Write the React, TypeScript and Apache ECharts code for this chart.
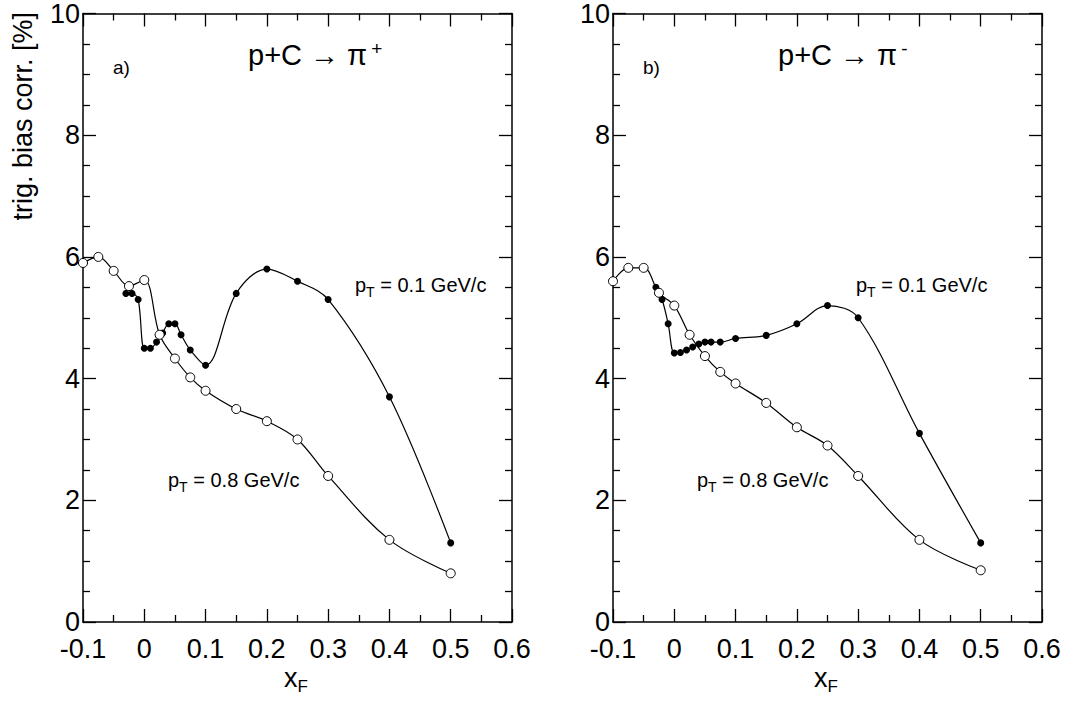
import { useEffect, useRef } from 'react'
import * as echarts from 'echarts'

// panel a) p+C -> pi+
const aFilledX = [-0.03, -0.02, -0.01, 0, 0.01, 0.02, 0.03, 0.04, 0.05, 0.06, 0.075, 0.1, 0.15, 0.2, 0.25, 0.3, 0.4, 0.5]
const aFilledY = [5.4, 5.4, 5.3, 4.5, 4.5, 4.6, 4.75, 4.9, 4.9, 4.72, 4.47, 4.22, 5.4, 5.8, 5.6, 5.3, 3.7, 1.3]
const aOpenX = [-0.1, -0.075, -0.05, -0.025, 0, 0.025, 0.05, 0.075, 0.1, 0.15, 0.2, 0.25, 0.3, 0.4, 0.5]
const aOpenY = [5.9, 6.0, 5.77, 5.52, 5.62, 4.72, 4.33, 4.02, 3.8, 3.5, 3.3, 3.0, 2.4, 1.35, 0.8]

// panel b) p+C -> pi-
const bFilledX = [-0.03, -0.02, -0.01, 0, 0.01, 0.02, 0.03, 0.04, 0.05, 0.06, 0.075, 0.1, 0.15, 0.2, 0.25, 0.3, 0.4, 0.5]
const bFilledY = [5.5, 5.3, 4.9, 4.42, 4.43, 4.47, 4.52, 4.57, 4.6, 4.6, 4.6, 4.66, 4.71, 4.9, 5.2, 5.0, 3.1, 1.3]
const bOpenX = [-0.1, -0.075, -0.05, -0.025, 0, 0.025, 0.05, 0.075, 0.1, 0.15, 0.2, 0.25, 0.3, 0.4, 0.5]
const bOpenY = [5.6, 5.82, 5.82, 5.41, 5.2, 4.72, 4.37, 4.11, 3.92, 3.6, 3.2, 2.9, 2.4, 1.35, 0.85]

const xLabels = ['-0.1', '0', '0.1', '0.2', '0.3', '0.4', '0.5', '0.6']
const yLabels = ['0', '2', '4', '6', '8', '10']

const font = 'Liberation Sans, Arial, sans-serif'
const zip = (xs: number[], ys: number[]) => xs.map((x, i) => [x, ys[i]])

export default function App() {
  const ref = useRef<HTMLDivElement | null>(null)

  useEffect(() => {
    if (!ref.current) return
    const chart = echarts.init(ref.current, null, { renderer: 'svg' })

    const grids = [
      { left: 83, top: 12, width: 429, height: 610 },
      { left: 613, top: 12, width: 429, height: 610 },
    ]
    const tick = { show: true, inside: true, length: 13, lineStyle: { color: '#000', width: 1.3 } }
    const minor = (n: number) => ({ show: true, splitNumber: n, length: 7, lineStyle: { color: '#000', width: 1.3 } })
    const line = { show: true, onZero: false, lineStyle: { color: '#000', width: 1.5 } }
    const xAxes: any[] = []
    const yAxes: any[] = []
    grids.forEach((_, g) => {
      for (const pos of ['bottom', 'top']) {
        xAxes.push({
          type: 'value', gridIndex: g, position: pos, min: -0.1, max: 0.6, interval: 0.1,
          axisLine: line, axisTick: tick, minorTick: minor(2), splitLine: { show: false },
          axisLabel: {
            show: pos === 'bottom', color: '#000', fontSize: 27, fontFamily: font, margin: 13,
            formatter: (v: number) => xLabels[Math.round((v + 0.1) * 10)] ?? '',
          },
        })
      }
      for (const pos of ['left', 'right']) {
        yAxes.push({
          type: 'value', gridIndex: g, position: pos, min: 0, max: 10, interval: 2,
          axisLine: line, axisTick: tick, minorTick: minor(4), splitLine: { show: false },
          axisLabel: {
            show: pos === 'left', color: '#000', fontSize: 27, fontFamily: font, margin: 3,
            formatter: (v: number) => yLabels[Math.round(v / 2)] ?? '',
          },
        })
      }
    })

    const filled = (d: number[][], g: number) => ({
      type: 'line', xAxisIndex: g * 2, yAxisIndex: g * 2, data: d, smooth: 0.35,
      symbol: 'circle', symbolSize: 7, itemStyle: { color: '#000' },
      lineStyle: { color: '#000', width: 1.2 },
    })
    const open = (d: number[][], g: number) => ({
      type: 'line', xAxisIndex: g * 2, yAxisIndex: g * 2, data: d, smooth: 0.35,
      symbol: 'circle', symbolSize: 9, itemStyle: { color: '#fff', borderColor: '#000', borderWidth: 1 },
      lineStyle: { color: '#000', width: 1.2 },
    })

    const pt = (x: number, y: number, v: string) => ({
      type: 'text', x, y,
      style: {
        text: `{a|p}{s|T}{a| = ${v} GeV/c}`, fill: '#000', fontFamily: font,
        rich: { a: { fontSize: 20, lineHeight: 26 }, s: { fontSize: 14, lineHeight: 26, padding: [13, 0, 0, 0] } },
      },
    })
    const title = (x: number, sign: string) => ({
      type: 'text', x, y: 38,
      style: {
        text: `{a|p+C }{a|\u2192 \u03c0}{s|${sign}}`, fill: '#000', fontFamily: font,
        rich: { a: { fontSize: 29, lineHeight: 34 }, s: { fontSize: 19, lineHeight: 34, padding: [0, 0, 14, 4] } },
      },
    })
    const xname = (x: number) => ({
      type: 'text', x, y: 662,
      style: {
        text: '{a|x}{s|F}', fill: '#000', fontFamily: font,
        rich: { a: { fontSize: 27, lineHeight: 32 }, s: { fontSize: 17, lineHeight: 32, padding: [16, 0, 0, 0] } },
      },
    })

    chart.setOption({
      animation: false,
      grid: grids,
      xAxis: xAxes,
      yAxis: yAxes,
      series: [
        filled(zip(aFilledX, aFilledY), 0),
        open(zip(aOpenX, aOpenY), 0),
        filled(zip(bFilledX, bFilledY), 1),
        open(zip(bOpenX, bOpenY), 1),
      ],
      graphic: [
        { type: 'text', x: 113, y: 58, style: { text: 'a)', fontSize: 19, fontFamily: font, fill: '#000' } },
        { type: 'text', x: 643, y: 58, style: { text: 'b)', fontSize: 19, fontFamily: font, fill: '#000' } },
        title(248, '+'),
        title(778, '-'),
        pt(355, 272, '0.1'),
        pt(168, 467, '0.8'),
        pt(856, 272, '0.1'),
        pt(697, 467, '0.8'),
        xname(284),
        xname(814),
        {
          type: 'text', x: 9, y: 12, rotation: Math.PI / 2,
          style: { text: 'trig. bias corr. [%]', fontSize: 27, fontFamily: font, fill: '#000', align: 'right', verticalAlign: 'top' },
        },
      ],
    })
    return () => chart.dispose()
  }, [])

  return <div ref={ref} style={{ position: 'fixed', left: 0, top: 0, width: 1067, height: 708, background: '#fff' }} />
}
